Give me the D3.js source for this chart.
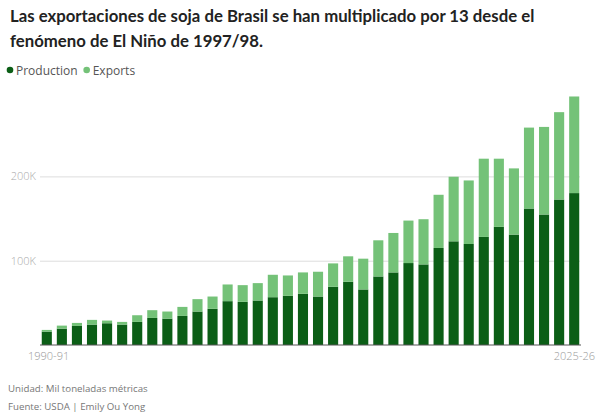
<!DOCTYPE html>
<html>
<head>
<meta charset="utf-8">
<script src="https://cdn.jsdelivr.net/npm/d3@7"></script>
<style>
  body { margin: 0; background: #fff; }
  svg { display: block; font-family: "Open Sans", "Noto Sans", sans-serif; }
</style>
</head>
<body>
<svg id="chart" width="600" height="417"></svg>
<script>
// marketing years, 1990-91 .. 2025-26
const seasons = ["1990-91","1991-92","1992-93","1993-94","1994-95","1995-96","1996-97","1997-98",
  "1998-99","1999-00","2000-01","2001-02","2002-03","2003-04","2004-05","2005-06","2006-07",
  "2007-08","2008-09","2009-10","2010-11","2011-12","2012-13","2013-14","2014-15","2015-16",
  "2016-17","2017-18","2018-19","2019-20","2020-21","2021-22","2022-23","2023-24","2024-25","2025-26"];

// thousand metric tons
const production = [15900, 19400, 22600, 24200, 25800, 24200, 27400, 32100, 31300, 34500,
  39700, 42900, 52000, 51200, 52800, 56700, 58300, 60700, 57500, 69000,
  75000, 65900, 81300, 86100, 97200, 95600, 115100, 123000, 119800, 128200,
  140100, 131000, 161900, 154800, 172600, 180200];
const exportsVals = [2000, 3600, 3600, 5600, 3200, 3200, 7900, 9200, 8400, 10700,
  14700, 14600, 19800, 19800, 20600, 26600, 24200, 25400, 29400, 27800,
  30200, 36500, 42900, 46800, 50400, 53600, 63100, 76600, 75400, 92800,
  80900, 78500, 96000, 103900, 103600, 114600];

const yTicks = [100000, 200000];
const xTickLabels = ["1990-91", "2025-26"];

const dark = "#0b5e16", light = "#74c278";

const svg = d3.select("#chart");

// title - fit the first line to the reference width
const titleLines = ["Las exportaciones de soja de Brasil se han multiplicado por 13 desde el",
  "fenómeno de El Niño de 1997/98."];
const title = svg.append("text")
  .attr("font-family", "Lato, 'Open Sans', sans-serif")
  .attr("font-size", 18).attr("font-weight", 700).attr("fill", "#222");
titleLines.forEach((l, i) => title.append("tspan").attr("x", 10).attr("y", 22 + i * 25).text(l));
let fs = 18;
while (title.select("tspan").node().getComputedTextLength() > 530 && fs > 12) {
  fs -= 0.25;
  title.attr("font-size", fs);
}

// legend
const legend = [["Production", dark], ["Exports", light]];
let lx = 10;
legend.forEach(([name, col]) => {
  svg.append("circle").attr("cx", lx).attr("cy", 70).attr("r", 3.3).attr("fill", col);
  const t = svg.append("text").attr("x", lx + 6).attr("y", 74.5).attr("font-size", 12)
    .attr("fill", "#555").text(name);
  lx += t.node().getComputedTextLength() + 15;
});

const x = d3.scaleBand().domain(seasons).range([41, 580]).paddingInner(0.33).paddingOuter(0.05);
const y = d3.scaleLinear().domain([0, 300000]).range([345, 92.1]);

// gridlines + labels
const yAxis = svg.append("g").attr("transform", "translate(40,0)")
  .call(d3.axisLeft(y).tickValues(yTicks).tickSize(-540).tickFormat(d => d / 1000 + "K"));
yAxis.select(".domain").remove();
yAxis.selectAll(".tick line").attr("stroke", "#ddd").attr("stroke-width", 1);
yAxis.selectAll(".tick text").attr("x", -4).attr("fill", "#aaa")
  .attr("font-size", 11).attr("font-family", "'Open Sans', sans-serif").attr("font-weight", 300);

const rows = seasons.map((s, i) => ({ season: s, production: production[i], exports: exportsVals[i] }));
const stack = d3.stack().keys(["production", "exports"])(rows);

svg.append("g").selectAll("g").data(stack).join("g")
  .attr("fill", (d, i) => i === 0 ? dark : light)
  .selectAll("rect").data(d => d).join("rect")
  .attr("x", d => x(d.data.season))
  .attr("width", x.bandwidth())
  .attr("y", d => y(d[1]))
  .attr("height", d => y(d[0]) - y(d[1]));

// baseline
svg.append("line").attr("x1", 40).attr("x2", 581).attr("y1", y(0)).attr("y2", y(0))
  .attr("stroke", "#555").attr("stroke-width", 1);

// x labels (first and last)
svg.append("text").attr("x", 28).attr("y", 360).attr("font-size", 11).attr("fill", "#999")
  .attr("font-weight", 300).text(xTickLabels[0]);
svg.append("text").attr("x", 595).attr("y", 360).attr("text-anchor", "end").attr("font-size", 11)
  .attr("fill", "#999").attr("font-weight", 300).text(xTickLabels[1]);

// footer
svg.append("text").attr("x", 8).attr("y", 392).attr("font-size", 9.7).attr("fill", "#777")
  .text("Unidad: Mil toneladas métricas");
svg.append("text").attr("x", 8).attr("y", 410).attr("font-size", 9.7).attr("fill", "#777")
  .text("Fuente: USDA | Emily Ou Yong");
</script>
</body>
</html>
